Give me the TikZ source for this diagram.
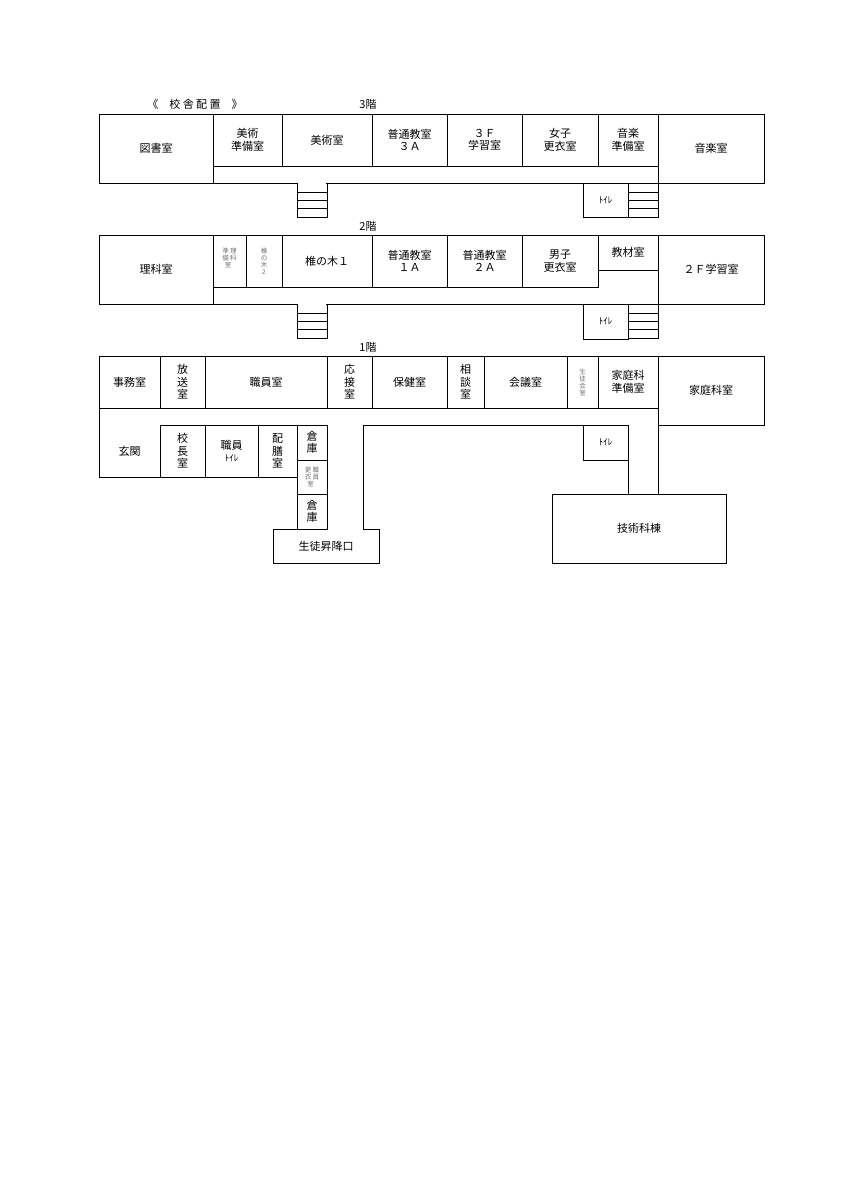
\documentclass[tikz,border=0pt]{standalone}
\usepackage{fontspec}
\setmainfont{Noto Sans CJK JP}
\usetikzlibrary{positioning}

\tikzset{
  wall/.style={draw=black, line width=0.8pt},
  lbl/.style={align=center, font=\fontsize{11}{12.5}\selectfont, inner sep=0pt},
  tiny/.style={align=center, font=\fontsize{6.5}{7}\selectfont, text=black!55, inner sep=0pt},
}
% room box with a label at its centre
\newcommand{\room}[6][lbl]{%
  \draw[wall] (#2,#3) rectangle (#4,#5);
  \node[#1] at ({(#2+#4)/2},{(#3+#5)/2}) {#6};}
% stairs: three steps
\newcommand{\stairs}[3]{%
  \draw[wall] (#1,#3) -- (#1,#3+34) -- (#2,#3+34) -- (#2,#3);
  \foreach \s in {9,17,25} \draw[wall] (#1,#3+\s) -- (#2,#3+\s);}

\begin{document}
\begin{tikzpicture}[x=1pt,y=-1pt]
\useasboundingbox (0,0) rectangle (849,1200);

% 3F
\node[lbl] (title) at (195,104) {《\quad 校\ 舎\ 配\ 置\quad 》};
\node[lbl] (f3) at (368,104) {3階};
\draw[wall] (99,114) rectangle (658,183);
\room{99}{114}{213}{183}{図書室}
\room{213}{114}{282}{166}{美術\\準備室}
\room{282}{114}{372}{166}{美術室}
\room{372}{114}{447}{166}{普通教室\\３Ａ}
\room{447}{114}{522}{166}{３Ｆ\\学習室}
\room{522}{114}{598}{166}{女子\\更衣室}
\room{598}{114}{658}{166}{音楽\\準備室}
\room{658}{114}{764}{183}{音楽室}
\draw[white, line width=1.2pt] (297.6,183) -- (326.4,183);
\stairs{297}{327}{183}
\room{583}{183}{628}{217}{\fontsize{9}{10}\selectfont ﾄｲﾚ}
\stairs{628}{658}{183}

% 2F
\node[lbl] (f2) at (368,226) {2階};
\draw[wall] (99,235) rectangle (658,304);
\room{99}{235}{213}{304}{理科室}
\room[tiny]{213}{235}{246}{287}{}
\node[tiny] (rika) at (229.5,258) {準\,理\\備\,科\\室\ \ \ };
\room[tiny]{246}{235}{282}{287}{椎\\の\\木\\2}
\room{282}{235}{372}{287}{椎の木１}
\room{372}{235}{447}{287}{普通教室\\１Ａ}
\room{447}{235}{522}{287}{普通教室\\２Ａ}
\room{522}{235}{598}{287}{男子\\更衣室}
\room{598}{235}{658}{270}{教材室}
\room{658}{235}{764}{304}{２Ｆ学習室}
\draw[white, line width=1.2pt] (297.6,304) -- (326.4,304);
\stairs{297}{327}{304}
\room{583}{304}{628}{339}{\fontsize{9}{10}\selectfont ﾄｲﾚ}
\stairs{628}{658}{304}

% 1F
\node[lbl] (f1) at (368,347) {1階};
\draw[wall] (99,408) -- (99,356) -- (658,356) -- (658,408);
\room{99}{356}{160}{408}{事務室}
\room{160}{356}{205}{408}{放\\送\\室}
\room{205}{356}{327}{408}{職員室}
\room{327}{356}{372}{408}{応\\接\\室}
\room{372}{356}{447}{408}{保健室}
\room{447}{356}{484}{408}{相\\談\\室}
\room{484}{356}{567}{408}{会議室}
\room[tiny]{567}{356}{598}{408}{生\\徒\\会\\室}
\room{598}{356}{658}{408}{家庭科\\準備室}
\room{658}{356}{764}{425}{家庭科室}
\draw[wall] (99,408) -- (99,477) -- (160,477);
\node[lbl] (genkan) at (129.5,451) {玄関};
\room{160}{425}{205}{477}{校\\長\\室}
\room{205}{425}{258}{477}{職員\\{\fontsize{9}{10}\selectfont ﾄｲﾚ}}
\room{258}{425}{297}{477}{配\\膳\\室}
\room{297}{425}{327}{460}{倉\\庫}
\room[tiny]{297}{460}{327}{494}{更\,職\\衣\,員\\室\ \ \ }
\room{297}{494}{327}{529}{倉\\庫}
\draw[wall] (327,529) -- (273,529) -- (273,563) -- (379,563) -- (379,529) -- (363,529)
  -- (363,425) -- (628,425);
\node[lbl] (shoko) at (326,546) {生徒昇降口};
\room{583}{425}{628}{460}{\fontsize{9}{10}\selectfont ﾄｲﾚ}
\draw[wall] (628,460) -- (628,494);
\draw[wall] (658,425) -- (658,494);
\room{552}{494}{726}{563}{技術科棟}
\end{tikzpicture}
\end{document}
